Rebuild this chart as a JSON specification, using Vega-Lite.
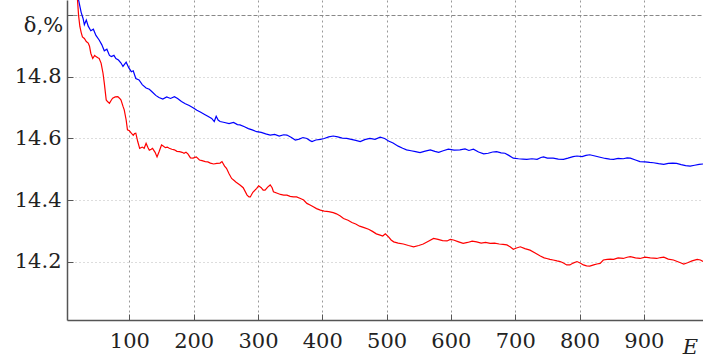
{
"$schema": "https://vega.github.io/schema/vega-lite/v6.json",
"width": 636, "height": 320,
"autosize": {"type": "none"},
"padding": {"left": 67, "top": 0, "right": 0, "bottom": 38},
"background": "white",
"config": {"view": {"stroke": null}, "font": "DejaVu Serif"},
"datasets": {
"b": [{"E":20,"d":15.06},{"E":25,"d":15.01},{"E":28,"d":14.99},{"E":30,"d":14.97},{"E":33,"d":14.985},{"E":36,"d":14.965},{"E":40,"d":14.95},{"E":44,"d":14.955},{"E":48,"d":14.935},{"E":53,"d":14.92},{"E":57,"d":14.905},{"E":61,"d":14.885},{"E":65,"d":14.89},{"E":69,"d":14.87},{"E":72,"d":14.866},{"E":76,"d":14.87},{"E":79,"d":14.86},{"E":83,"d":14.855},{"E":87,"d":14.845},{"E":90,"d":14.834},{"E":95,"d":14.848},{"E":99,"d":14.83},{"E":103,"d":14.817},{"E":106,"d":14.82},{"E":110,"d":14.795},{"E":115,"d":14.79},{"E":120,"d":14.775},{"E":126,"d":14.764},{"E":131,"d":14.76},{"E":136,"d":14.75},{"E":141,"d":14.74},{"E":146,"d":14.733},{"E":152,"d":14.728},{"E":158,"d":14.735},{"E":164,"d":14.73},{"E":170,"d":14.736},{"E":175,"d":14.73},{"E":181,"d":14.72},{"E":187,"d":14.713},{"E":193,"d":14.707},{"E":199,"d":14.7},{"E":205,"d":14.692},{"E":211,"d":14.685},{"E":217,"d":14.678},{"E":222,"d":14.672},{"E":228,"d":14.665},{"E":232,"d":14.655},{"E":235,"d":14.672},{"E":238,"d":14.66},{"E":241,"d":14.655},{"E":248,"d":14.652},{"E":255,"d":14.648},{"E":262,"d":14.652},{"E":268,"d":14.645},{"E":272,"d":14.644},{"E":279,"d":14.638},{"E":285,"d":14.632},{"E":291,"d":14.628},{"E":298,"d":14.622},{"E":305,"d":14.62},{"E":312,"d":14.615},{"E":319,"d":14.611},{"E":326,"d":14.613},{"E":333,"d":14.608},{"E":340,"d":14.612},{"E":345,"d":14.611},{"E":352,"d":14.603},{"E":358,"d":14.595},{"E":364,"d":14.598},{"E":370,"d":14.603},{"E":376,"d":14.6},{"E":381,"d":14.593},{"E":384,"d":14.59},{"E":390,"d":14.595},{"E":397,"d":14.597},{"E":403,"d":14.6},{"E":410,"d":14.605},{"E":417,"d":14.608},{"E":424,"d":14.605},{"E":431,"d":14.601},{"E":438,"d":14.6},{"E":445,"d":14.597},{"E":452,"d":14.594},{"E":459,"d":14.59},{"E":466,"d":14.596},{"E":474,"d":14.6},{"E":482,"d":14.597},{"E":490,"d":14.604},{"E":497,"d":14.6},{"E":503,"d":14.592},{"E":510,"d":14.585},{"E":518,"d":14.575},{"E":525,"d":14.568},{"E":531,"d":14.563},{"E":538,"d":14.56},{"E":545,"d":14.557},{"E":552,"d":14.554},{"E":560,"d":14.559},{"E":568,"d":14.563},{"E":575,"d":14.558},{"E":581,"d":14.555},{"E":588,"d":14.56},{"E":596,"d":14.565},{"E":605,"d":14.562},{"E":614,"d":14.563},{"E":622,"d":14.566},{"E":628,"d":14.561},{"E":635,"d":14.565},{"E":643,"d":14.556},{"E":651,"d":14.55},{"E":658,"d":14.552},{"E":665,"d":14.556},{"E":671,"d":14.557},{"E":678,"d":14.553},{"E":684,"d":14.552},{"E":690,"d":14.545},{"E":697,"d":14.536},{"E":705,"d":14.534},{"E":712,"d":14.533},{"E":718,"d":14.532},{"E":726,"d":14.534},{"E":734,"d":14.532},{"E":740,"d":14.538},{"E":744,"d":14.54},{"E":750,"d":14.536},{"E":759,"d":14.536},{"E":767,"d":14.533},{"E":775,"d":14.532},{"E":782,"d":14.536},{"E":790,"d":14.541},{"E":796,"d":14.543},{"E":804,"d":14.541},{"E":810,"d":14.545},{"E":816,"d":14.547},{"E":824,"d":14.543},{"E":832,"d":14.539},{"E":840,"d":14.535},{"E":847,"d":14.533},{"E":853,"d":14.532},{"E":860,"d":14.535},{"E":868,"d":14.534},{"E":874,"d":14.537},{"E":879,"d":14.536},{"E":887,"d":14.53},{"E":894,"d":14.525},{"E":902,"d":14.524},{"E":909,"d":14.522},{"E":915,"d":14.521},{"E":923,"d":14.518},{"E":931,"d":14.516},{"E":938,"d":14.519},{"E":945,"d":14.52},{"E":951,"d":14.519},{"E":958,"d":14.515},{"E":965,"d":14.512},{"E":972,"d":14.51},{"E":979,"d":14.513},{"E":986,"d":14.516},{"E":992,"d":14.517}],
"r": [{"E":19,"d":15.06},{"E":21,"d":15.0},{"E":23,"d":14.964},{"E":25,"d":14.945},{"E":27,"d":14.93},{"E":30,"d":14.925},{"E":33,"d":14.915},{"E":36,"d":14.91},{"E":38,"d":14.9},{"E":40,"d":14.877},{"E":43,"d":14.86},{"E":46,"d":14.87},{"E":48,"d":14.866},{"E":51,"d":14.862},{"E":53,"d":14.86},{"E":56,"d":14.845},{"E":59,"d":14.812},{"E":61,"d":14.78},{"E":64,"d":14.725},{"E":66,"d":14.72},{"E":69,"d":14.714},{"E":72,"d":14.725},{"E":74,"d":14.731},{"E":78,"d":14.735},{"E":82,"d":14.736},{"E":85,"d":14.73},{"E":87,"d":14.725},{"E":90,"d":14.705},{"E":92,"d":14.693},{"E":95,"d":14.66},{"E":97,"d":14.628},{"E":100,"d":14.625},{"E":103,"d":14.617},{"E":106,"d":14.61},{"E":108,"d":14.616},{"E":110,"d":14.617},{"E":113,"d":14.59},{"E":116,"d":14.568},{"E":120,"d":14.572},{"E":123,"d":14.568},{"E":126,"d":14.584},{"E":129,"d":14.57},{"E":131,"d":14.562},{"E":134,"d":14.565},{"E":136,"d":14.568},{"E":140,"d":14.555},{"E":143,"d":14.54},{"E":146,"d":14.556},{"E":150,"d":14.579},{"E":152,"d":14.576},{"E":156,"d":14.57},{"E":159,"d":14.572},{"E":162,"d":14.568},{"E":166,"d":14.565},{"E":170,"d":14.563},{"E":174,"d":14.558},{"E":178,"d":14.557},{"E":182,"d":14.555},{"E":185,"d":14.552},{"E":188,"d":14.555},{"E":191,"d":14.55},{"E":195,"d":14.537},{"E":199,"d":14.536},{"E":204,"d":14.54},{"E":209,"d":14.53},{"E":213,"d":14.528},{"E":218,"d":14.525},{"E":222,"d":14.524},{"E":226,"d":14.52},{"E":231,"d":14.517},{"E":236,"d":14.519},{"E":241,"d":14.52},{"E":244,"d":14.525},{"E":248,"d":14.51},{"E":251,"d":14.503},{"E":255,"d":14.485},{"E":259,"d":14.47},{"E":262,"d":14.465},{"E":266,"d":14.458},{"E":272,"d":14.449},{"E":277,"d":14.44},{"E":283,"d":14.416},{"E":286,"d":14.41},{"E":288,"d":14.41},{"E":292,"d":14.425},{"E":298,"d":14.438},{"E":301,"d":14.446},{"E":305,"d":14.44},{"E":308,"d":14.432},{"E":311,"d":14.432},{"E":315,"d":14.442},{"E":319,"d":14.449},{"E":322,"d":14.44},{"E":324,"d":14.427},{"E":330,"d":14.422},{"E":335,"d":14.418},{"E":340,"d":14.416},{"E":345,"d":14.416},{"E":350,"d":14.412},{"E":355,"d":14.41},{"E":360,"d":14.41},{"E":366,"d":14.405},{"E":371,"d":14.4},{"E":376,"d":14.389},{"E":381,"d":14.384},{"E":386,"d":14.378},{"E":391,"d":14.372},{"E":397,"d":14.367},{"E":403,"d":14.364},{"E":410,"d":14.362},{"E":417,"d":14.359},{"E":422,"d":14.355},{"E":428,"d":14.348},{"E":433,"d":14.34},{"E":440,"d":14.334},{"E":446,"d":14.327},{"E":452,"d":14.322},{"E":458,"d":14.315},{"E":465,"d":14.31},{"E":472,"d":14.305},{"E":478,"d":14.298},{"E":484,"d":14.29},{"E":490,"d":14.286},{"E":494,"d":14.283},{"E":498,"d":14.29},{"E":503,"d":14.28},{"E":507,"d":14.27},{"E":511,"d":14.264},{"E":518,"d":14.26},{"E":526,"d":14.257},{"E":534,"d":14.252},{"E":542,"d":14.248},{"E":550,"d":14.252},{"E":557,"d":14.257},{"E":565,"d":14.266},{"E":573,"d":14.275},{"E":580,"d":14.272},{"E":587,"d":14.268},{"E":594,"d":14.267},{"E":599,"d":14.272},{"E":604,"d":14.27},{"E":612,"d":14.264},{"E":619,"d":14.259},{"E":626,"d":14.262},{"E":633,"d":14.266},{"E":640,"d":14.264},{"E":647,"d":14.26},{"E":654,"d":14.262},{"E":661,"d":14.259},{"E":668,"d":14.26},{"E":675,"d":14.257},{"E":681,"d":14.256},{"E":687,"d":14.254},{"E":692,"d":14.248},{"E":697,"d":14.24},{"E":702,"d":14.244},{"E":708,"d":14.248},{"E":715,"d":14.242},{"E":723,"d":14.237},{"E":731,"d":14.228},{"E":739,"d":14.218},{"E":745,"d":14.212},{"E":749,"d":14.21},{"E":754,"d":14.207},{"E":759,"d":14.205},{"E":765,"d":14.202},{"E":770,"d":14.2},{"E":775,"d":14.195},{"E":780,"d":14.189},{"E":785,"d":14.189},{"E":790,"d":14.195},{"E":796,"d":14.2},{"E":801,"d":14.195},{"E":806,"d":14.189},{"E":811,"d":14.186},{"E":816,"d":14.185},{"E":822,"d":14.189},{"E":827,"d":14.192},{"E":832,"d":14.194},{"E":837,"d":14.205},{"E":843,"d":14.207},{"E":848,"d":14.208},{"E":853,"d":14.207},{"E":860,"d":14.212},{"E":868,"d":14.21},{"E":874,"d":14.214},{"E":879,"d":14.216},{"E":887,"d":14.212},{"E":894,"d":14.21},{"E":902,"d":14.214},{"E":910,"d":14.212},{"E":920,"d":14.21},{"E":926,"d":14.213},{"E":931,"d":14.214},{"E":938,"d":14.208},{"E":946,"d":14.205},{"E":952,"d":14.2},{"E":957,"d":14.196},{"E":962,"d":14.192},{"E":968,"d":14.196},{"E":975,"d":14.202},{"E":983,"d":14.207},{"E":988,"d":14.205},{"E":992,"d":14.2}]
},
"layer": [
{
"data": {"name": "b"},
"mark": {"type": "line", "strokeWidth": 1.2, "clip": true, "color": "#0000ff"},
"encoding": {
"x": {"field": "E", "type": "quantitative"},
"y": {"field": "d", "type": "quantitative"}
}
},
{
"data": {"name": "r"},
"mark": {"type": "line", "strokeWidth": 1.2, "clip": true, "color": "#ff0000"},
"encoding": {
"x": {"field": "E", "type": "quantitative"},
"y": {"field": "d", "type": "quantitative"}
}
}
],
"encoding": {
"x": {"field": "E", "type": "quantitative",
"scale": {"domain": [3, 992], "nice": false, "zero": false},
"axis": {"values": [100, 200, 300, 400, 500, 600, 700, 800, 900], "format": "d",
"title": "E", "titleFont": "DejaVu Serif", "titleFontStyle": "italic", "titleFontWeight": "normal", "titleFontSize": 21, "titleColor": "#222",
"titleX": 623, "titleY": 33, "titleAlign": "center", "titleBaseline": "alphabetic",
"labelFont": "DejaVu Serif", "labelFontSize": 21, "labelColor": "#222", "labelPadding": 16, "labelFlush": false,
"tickSize": -6, "tickColor": "#555", "domainColor": "#555", "domainWidth": 1.5,
"grid": true, "gridColor": "#999", "gridDash": [2, 3], "gridWidth": 1}},
"y": {"field": "d", "type": "quantitative",
"scale": {"domain": [14.01, 15.05], "nice": false, "zero": false},
"axis": {"values": [14.2, 14.4, 14.6, 14.8, 15.0], "labelExpr": "datum.value >= 14.99 ? '' : format(datum.value, '.1f')",
"title": "δ,%", "titleFont": "DejaVu Serif", "titleAngle": 0, "titleFontWeight": "normal", "titleFontSize": 21, "titleColor": "#222",
"titleX": -24, "titleY": 31, "titleAlign": "center", "titleBaseline": "alphabetic",
"labelFont": "DejaVu Serif", "labelFontSize": 21, "labelColor": "#222", "labelPadding": 12,
"tickSize": -6, "tickColor": "#555", "domainColor": "#555", "domainWidth": 1.5,
"grid": true,
"gridColor": {"condition": {"test": "datum.value >= 14.99", "value": "#888"}, "value": "#bbb"},
"gridDash": {"condition": {"test": "datum.value >= 14.99", "value": [4, 2]}, "value": [1, 3]},
"gridWidth": 1}}
}
}
